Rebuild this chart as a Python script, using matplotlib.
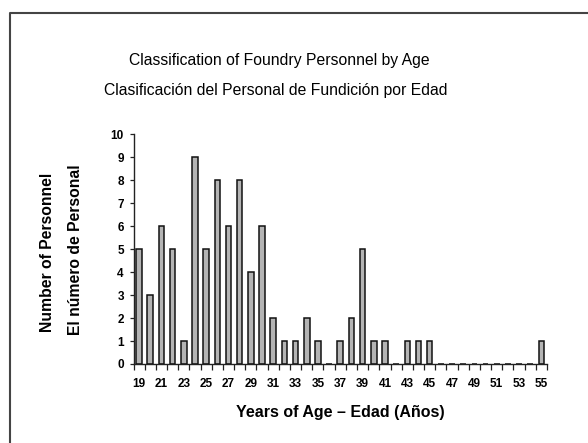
import numpy as np
import matplotlib
matplotlib.use("Agg")
import matplotlib.pyplot as plt
from matplotlib.lines import Line2D

plt.rcParams["font.family"] = ["Liberation Sans", "DejaVu Sans"]

# ── data ─────────────────────────────────────────────────────────────────────
ages = list(range(19, 56))
counts = [5, 3, 6, 5, 1, 9, 5, 8, 6, 8, 4, 6, 2, 1, 1, 2, 1, 0, 1, 2, 5, 1, 1,
          0, 1, 1, 1, 0, 0, 0, 0, 0, 0, 0, 0, 0, 1]
tick_ages = list(range(19, 56, 2))
yticks = list(range(0, 11))

# ── figure ───────────────────────────────────────────────────────────────────
W, H = 588, 443
fig = plt.figure(figsize=(W / 100, H / 100), dpi=100)
ax = fig.add_axes([133.5 / W, 1 - 364 / H, (547 - 133.5) / W, (364 - 134.5) / H])

x = np.arange(len(ages))
ax.bar(x, counts, width=0.5, color="#b4b4b4", edgecolor="#111111", linewidth=1.1)

ax.set_xlim(-0.5, len(ages) - 0.5)
ax.set_ylim(0, 10)
ax.set_yticks(yticks)
ax.set_yticklabels([str(v) for v in yticks], fontsize=8.5, fontweight="bold")

# labels at odd ages, tick marks between categories
ax.set_xticks([ages.index(a) for a in tick_ages])
ax.set_xticklabels([str(a) for a in tick_ages], fontsize=8.5, fontweight="bold")
ax.tick_params(axis="x", length=0, pad=10)
ax.set_xticks(np.arange(-0.5, len(ages)), minor=True)
ax.tick_params(axis="x", which="minor", length=4, width=0.9, color="#222222")
ax.tick_params(axis="y", length=3, width=0.9, pad=4, color="#222222")

for s in ("top", "right"):
    ax.spines[s].set_visible(False)
for s in ("left", "bottom"):
    ax.spines[s].set_linewidth(1.0)
    ax.spines[s].set_color("#222222")

ax.set_xlabel("Years of Age – Edad (Años)", fontsize=11.5, fontweight="bold",
              labelpad=11)
fig.text(48 / W, 1 - 252 / H, "Number of Personnel", rotation=90,
         ha="center", va="center", fontsize=11.3, fontweight="bold")
fig.text(75 / W, 1 - 250 / H, "El número de Personal", rotation=90,
         ha="center", va="center", fontsize=11.3, fontweight="bold")

fig.text(279 / W, 1 - 60 / H, "Classification of Foundry Personnel by Age",
         ha="center", va="center", fontsize=11.3)
fig.text(276 / W, 1 - 90 / H, "Clasificación del Personal de Fundición por Edad",
         ha="center", va="center", fontsize=11.3)

# outer frame (left and top edges visible)
fig.add_artist(Line2D([10 / W, 10 / W, 1.0], [0.0, 1 - 13 / H, 1 - 13 / H],
                      transform=fig.transFigure, color="#444444", lw=1.5))

fig.savefig("out.png", dpi=100)
